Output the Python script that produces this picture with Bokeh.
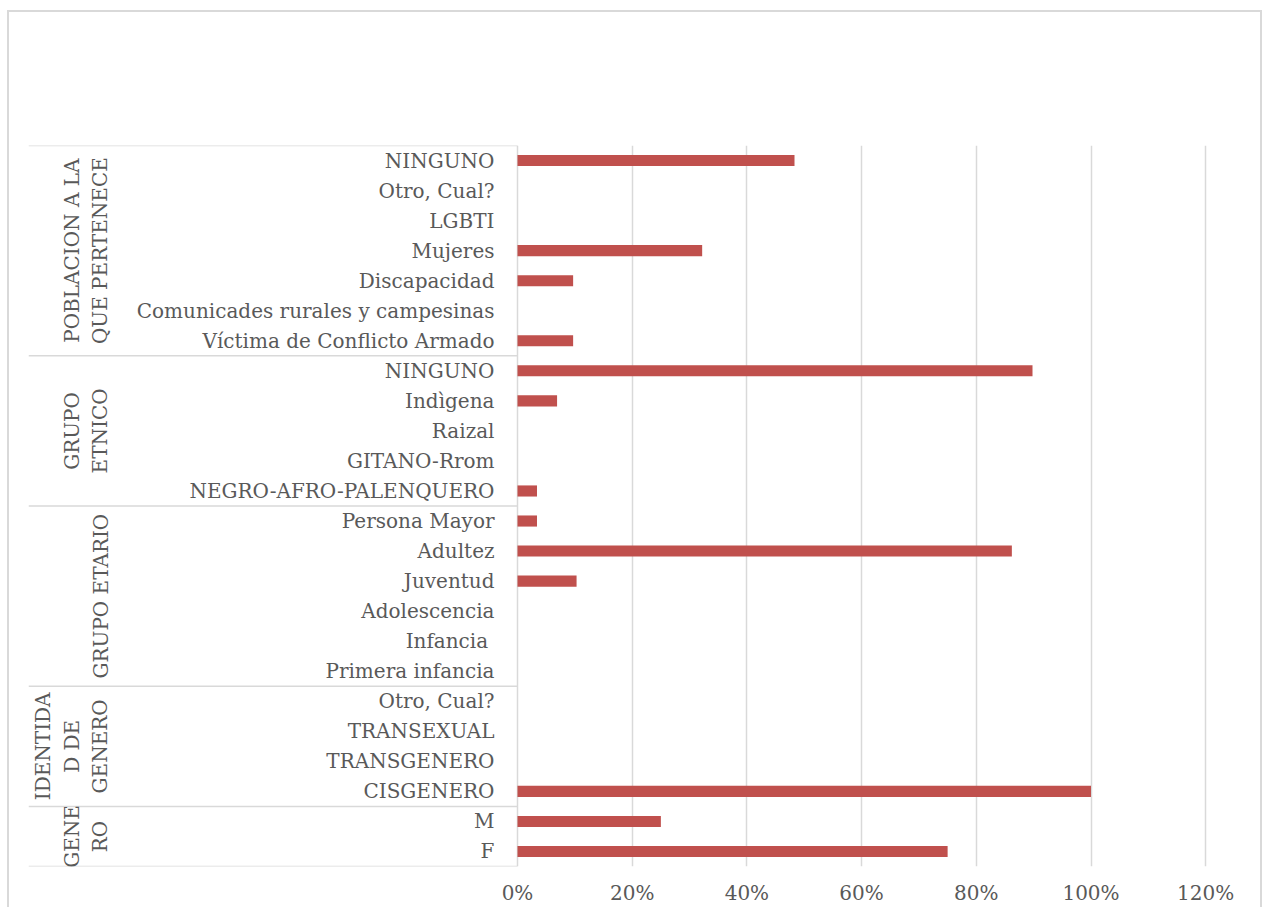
import math
from bokeh.plotting import figure
from bokeh.models import FactorRange, Range1d, FixedTicker, NumeralTickFormatter, ColumnDataSource
from bokeh.core.properties import value
from bokeh.embed import file_html
from bokeh.resources import INLINE

# ---------------- data (top to bottom, as in the reference) ----------------
group_keys = ["POBLACION", "ETNICO", "ETARIO", "IDENTIDAD", "GENERO"]
group_labels = ["POBLACION A LA\nQUE PERTENECE", "GRUPO\nETNICO", "GRUPO ETARIO",
                "IDENTIDA\nD DE\nGENERO", "GENE\nRO"]

poblacion = ["NINGUNO", "Otro, Cual?", "LGBTI", "Mujeres", "Discapacidad",
             "Comunicades rurales y campesinas", "Víctima de Conflicto Armado"]
poblacion_vals = [0.483, 0, 0, 0.322, 0.097, 0, 0.097]

etnico = ["NINGUNO", "Indìgena", "Raizal", "GITANO-Rrom", "NEGRO-AFRO-PALENQUERO"]
etnico_vals = [0.898, 0.069, 0, 0, 0.034]

etario = ["Persona Mayor", "Adultez", "Juventud", "Adolescencia", "Infancia ", "Primera infancia"]
etario_vals = [0.034, 0.862, 0.103, 0, 0, 0]

identidad = ["Otro, Cual?", "TRANSEXUAL", "TRANSGENERO", "CISGENERO"]
identidad_vals = [0, 0, 0, 1.0]

genero = ["M", "F"]
genero_vals = [0.25, 0.75]

x_ticks = [0, 0.2, 0.4, 0.6, 0.8, 1.0, 1.2]

# ---------------- build factors ----------------
subs = [poblacion, etnico, etario, identidad, genero]
vals = [poblacion_vals, etnico_vals, etario_vals, identidad_vals, genero_vals]

factors_top_down, values_top_down, names_top_down = [], [], []
for g, s, v in zip(group_keys, subs, vals):
    for name, val in zip(s, v):
        factors_top_down.append((g, name))
        values_top_down.append(val)
        names_top_down.append(name)

factors = list(reversed(factors_top_down))  # y grows upward

# ---------------- geometry ----------------
FONT = "DejaVu Serif"
TXT = "#595959"
GRID = "#d9d9d9"
BAR = "#C0504D"

W, H = 1262, 907
LEFT, RIGHT, TOP, BOTTOM = 28, 8, 145, 39
zero_px = 517                     # px of 0% inside the figure
px_per_unit = 573.5
X0 = (LEFT - zero_px) / px_per_unit
X1 = X0 + (W - LEFT - RIGHT) / px_per_unit

def xpx(px):
    return (px - zero_px) / px_per_unit

p = figure(width=W, height=H,
           x_range=Range1d(X0, X1),
           y_range=FactorRange(factors=factors, range_padding=0, group_padding=0, factor_padding=0),
           output_backend="svg", toolbar_location=None, y_axis_location=None,
           min_border_left=LEFT, min_border_right=RIGHT, min_border_top=TOP, min_border_bottom=BOTTOM)
g = "linear-gradient(#d9d9d9,#d9d9d9)"
p.styles = {"background": f"{g} 7px 10px / 2px 100% no-repeat, "
                          f"{g} 7px 10px / 100% 2px no-repeat, "
                          f"{g} right 0px top 10px / 2px 100% no-repeat"}
p.border_fill_color = None
p.background_fill_color = None
p.outline_line_color = None

# grid
p.ygrid.visible = False
p.xgrid.ticker = FixedTicker(ticks=x_ticks)
p.xgrid.grid_line_color = GRID
p.xgrid.grid_line_width = 1.5

# x axis
p.xaxis.ticker = FixedTicker(ticks=x_ticks)
p.xaxis.formatter = NumeralTickFormatter(format="0%")
p.xaxis.axis_line_color = None
p.xaxis.major_tick_line_color = None
p.xaxis.minor_tick_line_color = None
p.xaxis.major_tick_out = 0
p.xaxis.major_tick_in = 0
p.xaxis.major_label_standoff = 14
p.xaxis.major_label_text_font = FONT
p.xaxis.major_label_text_font_size = "20px"
p.xaxis.major_label_text_color = TXT

# bars
src = ColumnDataSource(dict(y=factors_top_down, v=values_top_down))
p.hbar(y="y", left=0, right="v", height=0.37, source=src, fill_color=BAR, line_color=None)

# left table lines: top, separators between groups, bottom
sep_y = [(group_keys[0], subs[0][0], 0.5)]
for gk, s in zip(group_keys, subs):
    sep_y.append((gk, s[-1], -0.5))
p.segment(x0=[X0] * len(sep_y), x1=[0] * len(sep_y), y0=sep_y, y1=sep_y,
          line_color=GRID, line_width=1.5)

# category labels
lab = ColumnDataSource(dict(y=factors_top_down, t=names_top_down))
p.text(x=xpx(494), y="y", text="t", source=lab,
       text_align="right", text_baseline="middle",
       text_font=value(FONT), text_font_size="20px", text_color=TXT)

# group labels (rotated)
gsrc = ColumnDataSource(dict(y=group_keys, t=group_labels))
p.text(x=xpx(112), y="y", text="t", source=gsrc, angle=math.pi / 2,
       text_align="center", text_baseline="bottom", text_line_height=1.2,
       text_font=value(FONT), text_font_size="20px", text_color=TXT)

open("out.html", "w").write(file_html(p, INLINE))
